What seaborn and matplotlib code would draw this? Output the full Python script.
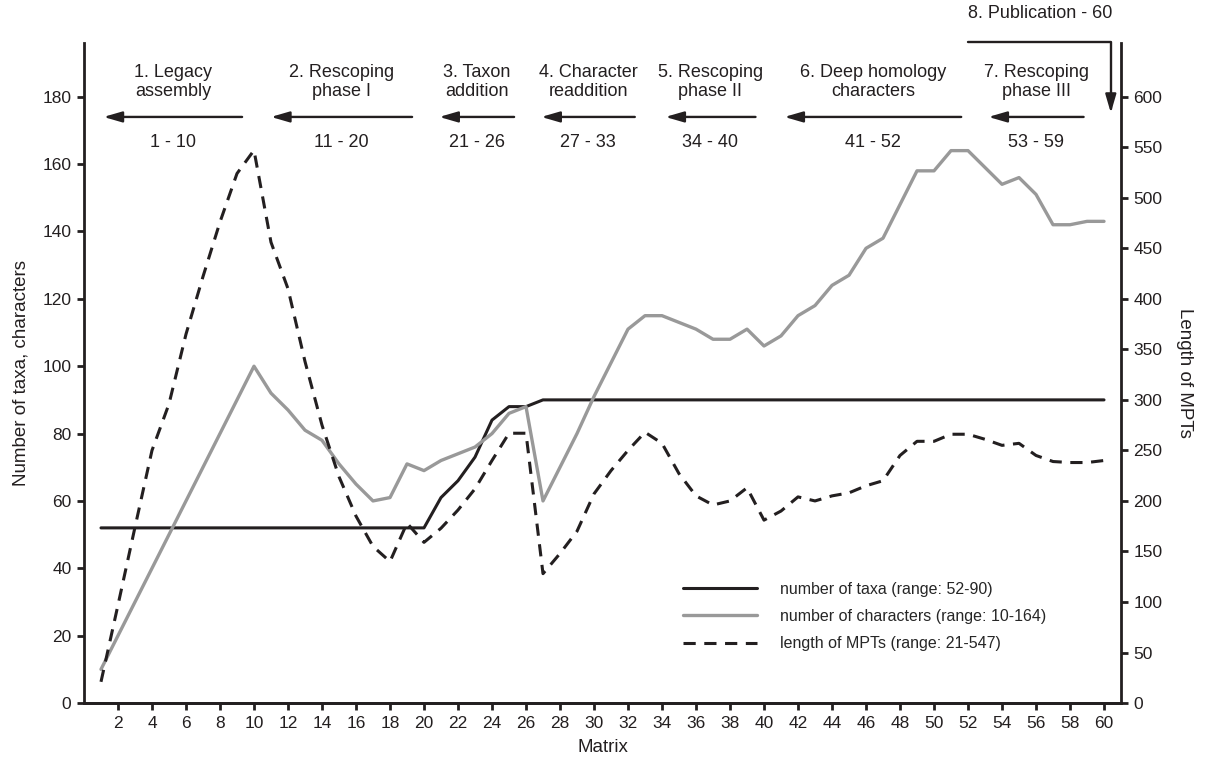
import matplotlib
matplotlib.use('Agg')
import matplotlib.pyplot as plt
import seaborn as sns
import pandas as pd

# values, matrices 1-60
matrix = list(range(1, 61))
taxa = [52, 52, 52, 52, 52, 52, 52, 52, 52, 52,
        52, 52, 52, 52, 52, 52, 52, 52, 52, 52,
        61, 66, 73, 84, 88, 88, 90, 90, 90, 90,
        90, 90, 90, 90, 90, 90, 90, 90, 90, 90,
        90, 90, 90, 90, 90, 90, 90, 90, 90, 90,
        90, 90, 90, 90, 90, 90, 90, 90, 90, 90]
characters = [10, 20, 30, 40, 50, 60, 70, 80, 90, 100,
              92, 87, 81, 78, 71, 65, 60, 61, 71, 69,
              72, 74, 76, 80, 86, 88, 60, 70, 80, 91,
              101, 111, 115, 115, 113, 111, 108, 108, 111, 106,
              109, 115, 118, 124, 127, 135, 138, 148, 158, 158,
              164, 164, 159, 154, 156, 151, 142, 142, 143, 143]
mpt_length = [21, 97, 174, 250, 296, 365, 422, 476, 524, 547,
              456, 410, 338, 275, 224, 185, 155, 140, 178, 159,
              173, 191, 212, 240, 267, 267, 128, 148, 170, 207,
              230, 250, 268, 257, 227, 205, 196, 200, 213, 181,
              190, 204, 200, 205, 208, 215, 220, 245, 259, 259,
              266, 266, 261, 255, 257, 245, 239, 238, 238, 240]

phase_labels = ['1. Legacy\nassembly', '2. Rescoping\nphase I', '3. Taxon\naddition',
                '4. Character\nreaddition', '5. Rescoping\nphase II',
                '6. Deep homology\ncharacters', '7. Rescoping\nphase III']
phase_ranges = ['1 - 10', '11 - 20', '21 - 26', '27 - 33', '34 - 40', '41 - 52', '53 - 59']
publication_label = '8. Publication - 60'

legend_labels = ['number of taxa (range: 52-90)',
                 'number of characters (range: 10-164)',
                 'length of MPTs (range: 21-547)']

# arrow extents for the phase annotations (x in matrix units)
arrow_tail = [9.3, 19.3, 25.3, 32.4, 39.5, 51.6, 58.8]
arrow_head = [1.15, 11.0, 20.9, 26.9, 34.2, 41.2, 53.2]

df = pd.DataFrame({'Matrix': matrix, 'taxa': taxa,
                   'characters': characters, 'mpt': mpt_length})

sns.set_style('ticks')
plt.rcParams['font.family'] = ['Liberation Sans', 'DejaVu Sans']

black = '#231f20'
grey = '#999999'

fig = plt.figure(figsize=(12.05, 7.65), dpi=100)
ax = fig.add_axes([0.0697, 0.081, 0.8606, 0.863])
ax2 = ax.twinx()

sns.lineplot(data=df, x='Matrix', y='taxa', ax=ax, color=black, lw=2.2, legend=False)
sns.lineplot(data=df, x='Matrix', y='characters', ax=ax, color=grey, lw=2.4, legend=False)
sns.lineplot(data=df, x='Matrix', y='mpt', ax=ax2, color=black, lw=2.2,
             linestyle=(0, (4, 2.8)), legend=False)
handles = [ax.lines[0], ax.lines[1], ax2.lines[0]]

ax.set_xlim(0, 61)
ax.set_ylim(0, 196)
ax2.set_ylim(0, 196 * 10 / 3)
ax.set_xticks(range(2, 61, 2))
ax.set_yticks(range(0, 181, 20))
ax2.set_yticks(range(0, 601, 50))

for a in (ax, ax2):
    a.spines['top'].set_visible(False)
    for s in a.spines.values():
        s.set_linewidth(2)
        s.set_color(black)
    a.tick_params(direction='out', length=5, width=2, color=black,
                  labelsize=12.5, labelcolor=black, pad=4)
ax.spines['right'].set_visible(False)
ax2.spines['left'].set_visible(False)

ax.set_xlabel('Matrix', fontsize=13.5, color=black, labelpad=6)
ax.set_ylabel('Number of taxa, characters', fontsize=13.5, color=black, labelpad=9)
ax2.set_ylabel('Length of MPTs', fontsize=13.5, color=black, rotation=270, labelpad=22)

# phase annotations along the top
for lab, rng, tail, head in zip(phase_labels, phase_ranges, arrow_tail, arrow_head):
    mid = (tail + head) / 2
    ax.text(mid, 184.4, lab, ha='center', va='center', fontsize=13, color=black,
            linespacing=1.1)
    ax.text(mid, 166.3, rng, ha='center', va='center', fontsize=13, color=black)
    ax.annotate('', xy=(head, 174), xytext=(tail, 174),
                arrowprops=dict(arrowstyle='-|>,head_length=0.55,head_width=0.16',
                                mutation_scale=20, color=black, lw=1.7,
                                shrinkA=0, shrinkB=0))

ax.annotate('', xy=(60.4, 175.2), xytext=(52.0, 196.3), annotation_clip=False,
            arrowprops=dict(arrowstyle='-|>,head_length=0.55,head_width=0.16',
                            mutation_scale=20, color=black, lw=1.7,
                            shrinkA=0, shrinkB=0,
                            connectionstyle='angle,angleA=0,angleB=90,rad=0'))
ax.text(52.0, 204.6, publication_label, ha='left', va='center', fontsize=13,
        color=black, clip_on=False)

ax2.legend(handles=handles, labels=legend_labels, loc='upper left',
           bbox_to_anchor=(0.578, 0.184), frameon=False, handlelength=4.6,
           handletextpad=1.45, labelspacing=0.78, borderaxespad=0, borderpad=0,
           fontsize=11.5)

fig.savefig('out.png', dpi=100)
plt.close()
